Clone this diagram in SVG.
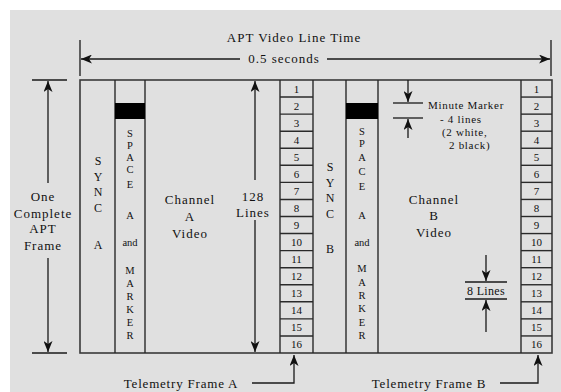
<svg xmlns="http://www.w3.org/2000/svg" width="561" height="392" viewBox="0 0 561 392" font-family="'Liberation Serif', 'Times New Roman', serif">
<style>
text{font-family:"Liberation Serif","Times New Roman",serif;fill:#111}
.t{font-size:13px;letter-spacing:1px;text-anchor:middle}
.s{font-size:11px;letter-spacing:0.7px}
.c{font-size:12px;text-anchor:middle}
.sp{font-size:10.5px;text-anchor:middle}
.n{font-size:11px;text-anchor:middle}
.box{fill:none;stroke:#3a3a3a;stroke-width:1.6}
.ln{stroke:#1a1a1a;stroke-width:1.3;fill:none}
.cl{stroke:#2a2a2a;stroke-width:1.4}
</style>
<defs>
<marker id="ah" markerWidth="11" markerHeight="9" refX="11" refY="4.5" orient="auto" markerUnits="userSpaceOnUse">
<path d="M0,0 L11,4.5 L0,9 L3,4.5 Z" fill="#111"/>
</marker>
</defs>
<rect x="0" y="0" width="561" height="392" fill="#ffffff"/>
<rect x="10" y="10" width="551" height="382" fill="#e0e0e0"/>

<g id="title">
<text class="t" x="294" y="42">APT Video Line Time</text>
</g>
<g id="line-time">
<line class="ln" x1="80" y1="40" x2="80" y2="76"/>
<line class="ln" x1="551" y1="40" x2="551" y2="76"/>
<text class="t" x="284" y="63">0.5 seconds</text>
</g>

<g id="frame-box">
<rect class="box" x="80" y="80" width="472" height="273"/>
<line class="cl" x1="115" y1="80" x2="115" y2="353"/>
<line class="cl" x1="145" y1="80" x2="145" y2="353"/>
<line class="cl" x1="280" y1="80" x2="280" y2="353"/>
<line class="cl" x1="313" y1="80" x2="313" y2="353"/>
<line class="cl" x1="346" y1="80" x2="346" y2="353"/>
<line class="cl" x1="378" y1="80" x2="378" y2="353"/>
<line class="cl" x1="521" y1="80" x2="521" y2="353"/>
</g>

<g id="frame-height">
<line class="ln" x1="32" y1="80" x2="67" y2="80"/>
<line class="ln" x1="32" y1="353" x2="67" y2="353"/>
<text class="t" x="43" y="201">One</text>
<text class="t" x="43" y="217.5">Complete</text>
<text class="t" x="43" y="233">APT</text>
<text class="t" x="43" y="249.5">Frame</text>
</g>

<g id="sync-a">
<text class="c" x="98" y="164.5">S</text>
<text class="c" x="98" y="180.5">Y</text>
<text class="c" x="98" y="195.5">N</text>
<text class="c" x="98" y="211.5">C</text>
<text class="c" x="98" y="248.5">A</text>
</g>

<g id="space-a">
<rect x="115" y="103" width="30" height="16" fill="#000"/>
<text class="sp" x="130" y="137">S</text>
<text class="sp" x="130" y="149">P</text>
<text class="sp" x="130" y="161">A</text>
<text class="sp" x="130" y="173">C</text>
<text class="sp" x="130" y="188">E</text>
<text class="sp" x="130" y="219">A</text>
<text class="sp" x="130" y="246">and</text>
<text class="sp" x="130" y="274">M</text>
<text class="sp" x="130" y="287">A</text>
<text class="sp" x="130" y="300">R</text>
<text class="sp" x="130" y="313">K</text>
<text class="sp" x="130" y="326">E</text>
<text class="sp" x="130" y="339">R</text>
</g>

<g id="channel-a">
<text class="t" x="190" y="204">Channel</text>
<text class="t" x="190" y="221">A</text>
<text class="t" x="190" y="238">Video</text>
</g>

<g id="lines-128">
<text class="t" x="253" y="200.5">128</text>
<text class="t" x="253" y="216.5">Lines</text>
</g>

<g id="telemetry-a">
<g class="cl">
<line x1="280" y1="97.06" x2="313" y2="97.06"/>
<line x1="280" y1="114.13" x2="313" y2="114.13"/>
<line x1="280" y1="131.19" x2="313" y2="131.19"/>
<line x1="280" y1="148.25" x2="313" y2="148.25"/>
<line x1="280" y1="165.31" x2="313" y2="165.31"/>
<line x1="280" y1="182.38" x2="313" y2="182.38"/>
<line x1="280" y1="199.44" x2="313" y2="199.44"/>
<line x1="280" y1="216.5" x2="313" y2="216.5"/>
<line x1="280" y1="233.56" x2="313" y2="233.56"/>
<line x1="280" y1="250.63" x2="313" y2="250.63"/>
<line x1="280" y1="267.69" x2="313" y2="267.69"/>
<line x1="280" y1="284.75" x2="313" y2="284.75"/>
<line x1="280" y1="301.81" x2="313" y2="301.81"/>
<line x1="280" y1="318.88" x2="313" y2="318.88"/>
<line x1="280" y1="335.94" x2="313" y2="335.94"/>
</g>
<text class="n" x="296.5" y="92.5">1</text>
<text class="n" x="296.5" y="109.6">2</text>
<text class="n" x="296.5" y="126.6">3</text>
<text class="n" x="296.5" y="143.7">4</text>
<text class="n" x="296.5" y="160.8">5</text>
<text class="n" x="296.5" y="177.8">6</text>
<text class="n" x="296.5" y="194.9">7</text>
<text class="n" x="296.5" y="211.9">8</text>
<text class="n" x="296.5" y="229">9</text>
<text class="n" x="296.5" y="246.1">10</text>
<text class="n" x="296.5" y="263.1">11</text>
<text class="n" x="296.5" y="280.2">12</text>
<text class="n" x="296.5" y="297.3">13</text>
<text class="n" x="296.5" y="314.3">14</text>
<text class="n" x="296.5" y="331.4">15</text>
<text class="n" x="296.5" y="348.4">16</text>
</g>

<g id="sync-b">
<text class="c" x="330" y="171">S</text>
<text class="c" x="330" y="186.5">Y</text>
<text class="c" x="330" y="202">N</text>
<text class="c" x="330" y="218">C</text>
<text class="c" x="330" y="253">B</text>
</g>

<g id="space-b">
<rect x="346" y="103" width="32" height="16" fill="#000"/>
<text class="sp" x="362" y="135">S</text>
<text class="sp" x="362" y="147">P</text>
<text class="sp" x="362" y="161">A</text>
<text class="sp" x="362" y="175">C</text>
<text class="sp" x="362" y="190">E</text>
<text class="sp" x="362" y="219">A</text>
<text class="sp" x="362" y="246">and</text>
<text class="sp" x="362" y="272">M</text>
<text class="sp" x="362" y="286">A</text>
<text class="sp" x="362" y="299">R</text>
<text class="sp" x="362" y="312">K</text>
<text class="sp" x="362" y="326">E</text>
<text class="sp" x="362" y="339">R</text>
</g>

<g id="minute-marker">
<line class="ln" x1="393" y1="103" x2="423" y2="103"/>
<line class="ln" x1="393" y1="118" x2="423" y2="118"/>
<text class="s" x="428" y="108.5">Minute Marker</text>
<text class="s" x="440" y="123">- 4 lines</text>
<text class="s" x="442" y="136">(2 white,</text>
<text class="s" x="449" y="148.5">2 black)</text>
</g>

<g id="channel-b">
<text class="t" x="434" y="203.5">Channel</text>
<text class="t" x="434" y="220">B</text>
<text class="t" x="434" y="236.5">Video</text>
</g>

<g id="eight-lines">
<line class="ln" x1="465" y1="282" x2="507" y2="282"/>
<line class="ln" x1="465" y1="299" x2="507" y2="299"/>
<text class="s" x="486" y="295" text-anchor="middle" style="font-size:12px;letter-spacing:0.3px">8 Lines</text>
</g>

<g id="telemetry-b">
<g class="cl">
<line x1="521" y1="97.06" x2="552" y2="97.06"/>
<line x1="521" y1="114.13" x2="552" y2="114.13"/>
<line x1="521" y1="131.19" x2="552" y2="131.19"/>
<line x1="521" y1="148.25" x2="552" y2="148.25"/>
<line x1="521" y1="165.31" x2="552" y2="165.31"/>
<line x1="521" y1="182.38" x2="552" y2="182.38"/>
<line x1="521" y1="199.44" x2="552" y2="199.44"/>
<line x1="521" y1="216.5" x2="552" y2="216.5"/>
<line x1="521" y1="233.56" x2="552" y2="233.56"/>
<line x1="521" y1="250.63" x2="552" y2="250.63"/>
<line x1="521" y1="267.69" x2="552" y2="267.69"/>
<line x1="521" y1="284.75" x2="552" y2="284.75"/>
<line x1="521" y1="301.81" x2="552" y2="301.81"/>
<line x1="521" y1="318.88" x2="552" y2="318.88"/>
<line x1="521" y1="335.94" x2="552" y2="335.94"/>
</g>
<text class="n" x="536.5" y="92.5">1</text>
<text class="n" x="536.5" y="109.6">2</text>
<text class="n" x="536.5" y="126.6">3</text>
<text class="n" x="536.5" y="143.7">4</text>
<text class="n" x="536.5" y="160.8">5</text>
<text class="n" x="536.5" y="177.8">6</text>
<text class="n" x="536.5" y="194.9">7</text>
<text class="n" x="536.5" y="211.9">8</text>
<text class="n" x="536.5" y="229">9</text>
<text class="n" x="536.5" y="246.1">10</text>
<text class="n" x="536.5" y="263.1">11</text>
<text class="n" x="536.5" y="280.2">12</text>
<text class="n" x="536.5" y="297.3">13</text>
<text class="n" x="536.5" y="314.3">14</text>
<text class="n" x="536.5" y="331.4">15</text>
<text class="n" x="536.5" y="348.4">16</text>
</g>

<g id="telemetry-labels">
<text class="t" x="181" y="388" style="letter-spacing:0.8px">Telemetry Frame A</text>
<text class="t" x="429" y="388" style="letter-spacing:0.8px">Telemetry Frame B</text>
</g>

<g id="connectors">
<line class="ln" x1="240" y1="59" x2="81" y2="59" marker-end="url(#ah)"/>
<line class="ln" x1="327" y1="59" x2="550" y2="59" marker-end="url(#ah)"/>
<line class="ln" x1="48" y1="183" x2="48" y2="81" marker-end="url(#ah)"/>
<line class="ln" x1="48" y1="258" x2="48" y2="352" marker-end="url(#ah)"/>
<line class="ln" x1="255" y1="180" x2="255" y2="81" marker-end="url(#ah)"/>
<line class="ln" x1="255" y1="220" x2="255" y2="352" marker-end="url(#ah)"/>
<line class="ln" x1="408" y1="80" x2="408" y2="102" marker-end="url(#ah)"/>
<line class="ln" x1="408" y1="138" x2="408" y2="119" marker-end="url(#ah)"/>
<line class="ln" x1="486" y1="255" x2="486" y2="281" marker-end="url(#ah)"/>
<line class="ln" x1="486" y1="332" x2="486" y2="300" marker-end="url(#ah)"/>
<path class="ln" d="M252,383 H294 V355" marker-end="url(#ah)"/>
<path class="ln" d="M500,383 H538 V355" marker-end="url(#ah)"/>
</g>
</svg>
